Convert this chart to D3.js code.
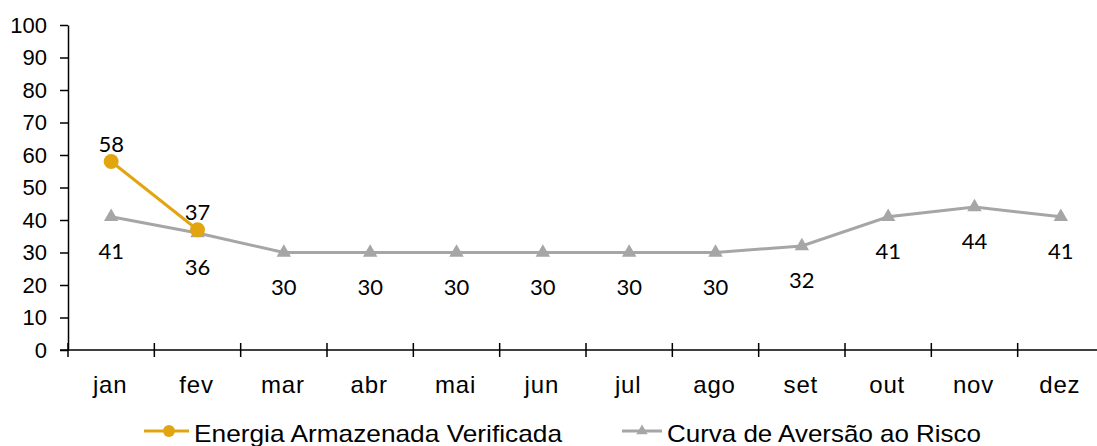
<!DOCTYPE html>
<html>
<head>
<meta charset="utf-8">
<script src="https://cdn.jsdelivr.net/npm/d3@7"></script>
<style>
  html, body { margin: 0; padding: 0; background: #fff; }
  svg { display: block; }
</style>
</head>
<body>
<svg id="chart" width="1097" height="446"></svg>
<script>
// Monthly categories
const months = ["jan", "fev", "mar", "abr", "mai", "jun", "jul", "ago", "set", "out", "nov", "dez"];
// Stored energy, verified (%)
const energiaVerificada = [58, 37];
// Risk aversion curve (%)
const curvaAversao = [41, 36, 30, 30, 30, 30, 30, 30, 32, 41, 44, 41];
// Y axis ticks
const yTicks = [0, 10, 20, 30, 40, 50, 60, 70, 80, 90, 100];

const seriesNames = ["Energia Armazenada Verificada", "Curva de Aversão ao Risco"];
const colors = { energia: "#e3a50f", curva: "#a6a6a6" };

const svg = d3.select("#chart");
const plotLeft = 68, plotRight = 1104, plotTop = 25, plotBottom = 350;

const x = d3.scaleBand().domain(months).range([plotLeft, plotRight]);
const y = d3.scaleLinear().domain([0, 100]).range([plotBottom, plotTop]);
const cx = m => x(m) + x.bandwidth() / 2;

// Y axis
const yAxis = svg.append("g").attr("transform", `translate(${plotLeft},0)`)
  .call(d3.axisLeft(y).tickValues(yTicks).tickSize(8).tickSizeOuter(0).tickPadding(13));
yAxis.select(".domain").attr("stroke", "#000").attr("stroke-width", 1.5);
yAxis.selectAll(".tick line").attr("stroke", "#000").attr("stroke-width", 1.5);
yAxis.selectAll(".tick text").attr("font-family", "'Liberation Sans', Arial, sans-serif")
  .attr("font-size", 22).attr("fill", "#000");

// X axis with crossing tick marks at category boundaries
const xg = svg.append("g");
xg.append("line").attr("x1", plotLeft - 8).attr("x2", plotRight).attr("y1", plotBottom).attr("y2", plotBottom)
  .attr("stroke", "#000").attr("stroke-width", 1.5);
const bounds = months.map(m => x(m)).concat([plotRight]);
xg.selectAll("line.tk").data(bounds).join("line").attr("class", "tk")
  .attr("x1", d => d).attr("x2", d => d).attr("y1", plotBottom - 7).attr("y2", plotBottom + 7)
  .attr("stroke", "#000").attr("stroke-width", 1.5);
xg.selectAll("text").data(months).join("text")
  .attr("x", d => cx(d) - 1).attr("y", 393).attr("text-anchor", "middle")
  .attr("font-family", "'Liberation Sans', Arial, sans-serif").attr("font-size", 24)
  .attr("letter-spacing", 0.8).attr("fill", "#000").text(d => d);

const line = d3.line().x((d, i) => cx(months[i])).y(d => y(d));

// Risk aversion curve
svg.append("path").datum(curvaAversao).attr("d", line)
  .attr("fill", "none").attr("stroke", colors.curva).attr("stroke-width", 3);
const tri = d3.symbol().type(d3.symbolTriangle).size(90);
svg.selectAll("path.tri").data(curvaAversao).join("path").attr("class", "tri")
  .attr("d", tri).attr("fill", colors.curva)
  .attr("transform", (d, i) => `translate(${cx(months[i])},${y(d)})`);
svg.selectAll("text.lc").data(curvaAversao).join("text").attr("class", "lc")
  .attr("x", (d, i) => cx(months[i])).attr("y", d => y(d) + 42)
  .attr("text-anchor", "middle").attr("font-family", "Lato, 'Open Sans', sans-serif")
  .attr("font-size", 22).attr("fill", "#000").text(d => d);

// Verified stored energy
svg.append("path").datum(energiaVerificada).attr("d", line)
  .attr("fill", "none").attr("stroke", colors.energia).attr("stroke-width", 3);
svg.selectAll("circle.en").data(energiaVerificada).join("circle").attr("class", "en")
  .attr("cx", (d, i) => cx(months[i])).attr("cy", d => y(d)).attr("r", 7.5)
  .attr("fill", colors.energia);
svg.selectAll("text.le").data(energiaVerificada).join("text").attr("class", "le")
  .attr("x", (d, i) => cx(months[i])).attr("y", d => y(d) - 10)
  .attr("text-anchor", "middle").attr("font-family", "Lato, 'Open Sans', sans-serif")
  .attr("font-size", 22).attr("fill", "#000").text(d => d);

// Legend
const lg = svg.append("g").attr("font-family", "'Liberation Sans', Arial, sans-serif")
  .attr("font-size", 24).attr("fill", "#000");
const l1 = lg.append("g").attr("transform", "translate(144,431)");
l1.append("line").attr("x1", 0).attr("x2", 45).attr("stroke", colors.energia).attr("stroke-width", 3);
l1.append("circle").attr("cx", 25).attr("r", 6).attr("fill", colors.energia);
l1.append("text").attr("x", 50).attr("y", 11).attr("textLength", 368)
  .attr("lengthAdjust", "spacingAndGlyphs").text(seriesNames[0]);
const l2 = lg.append("g").attr("transform", "translate(622,431)");
l2.append("line").attr("x1", 0).attr("x2", 40).attr("stroke", colors.curva).attr("stroke-width", 3);
l2.append("path").attr("d", d3.symbol().type(d3.symbolTriangle).size(55))
  .attr("transform", "translate(20,0)").attr("fill", colors.curva);
l2.append("text").attr("x", 45).attr("y", 11).attr("textLength", 314)
  .attr("lengthAdjust", "spacingAndGlyphs").text(seriesNames[1]);
</script>
</body>
</html>
